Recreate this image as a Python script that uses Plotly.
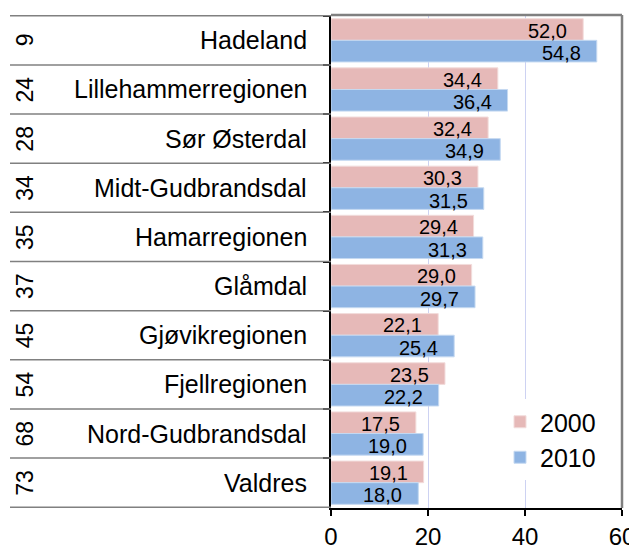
import plotly.graph_objects as go

regions = ["Hadeland", "Lillehammerregionen", "Sør Østerdal", "Midt-Gudbrandsdal",
           "Hamarregionen", "Glåmdal", "Gjøvikregionen", "Fjellregionen",
           "Nord-Gudbrandsdal", "Valdres"]
ranks = [9, 24, 28, 34, 35, 37, 45, 54, 68, 73]
v2000 = [52.0, 34.4, 32.4, 30.3, 29.4, 29.0, 22.1, 23.5, 17.5, 19.1]
v2010 = [54.8, 36.4, 34.9, 31.5, 31.3, 29.7, 25.4, 22.2, 19.0, 18.0]
x_ticks = [0, 20, 40, 60]

FONT = "Arial, Liberation Sans, sans-serif"
PINK = "#E6B9B8"
BLUE = "#8EB4E3"

# page body has an 8px margin; work in window pixels and convert
OFF = 8
W, H = 637 - OFF, 550 - OFF
PL, PR, PT, PB = 331, 622, 15, 508   # plot area in window pixels
L, T = PL - OFF, PT - OFF
R = W - (PR - OFF)
B = H - (PB - OFF)
plot_w = PR - PL
plot_h = PB - PT

def px_to_paper(px):
    return (px - PL) / plot_w

def py_to_paper(py):
    return (PB - py) / plot_h

fig = go.Figure()
fig.add_trace(go.Bar(y=regions, x=v2000, orientation="h", name="2000",
                     marker=dict(color=PINK, line=dict(color="#F2DCDB", width=1))))
fig.add_trace(go.Bar(y=regions, x=v2010, orientation="h", name="2010",
                     marker=dict(color=BLUE, line=dict(color="#C5D9F1", width=1))))

annotations = []
off = 0.22
for i, (name, rk, a, b) in enumerate(zip(regions, ranks, v2000, v2010)):
    annotations.append(dict(x=a, y=i - off, xref="x", yref="y", text=f"{a:.1f}".replace(".", ","),
                            showarrow=False, xanchor="right", yanchor="middle", xshift=-14, yshift=-1,
                            font=dict(size=20, color="black", family=FONT)))
    annotations.append(dict(x=b, y=i + off, xref="x", yref="y", text=f"{b:.1f}".replace(".", ","),
                            showarrow=False, xanchor="right", yanchor="middle", xshift=-14, yshift=-2,
                            font=dict(size=20, color="black", family=FONT)))
    annotations.append(dict(x=px_to_paper(309), y=i, xref="paper", yref="y", text=name,
                            showarrow=False, xanchor="right", yanchor="middle",
                            font=dict(size=25, color="black", family=FONT)))
    annotations.append(dict(x=px_to_paper(25), y=i, xref="paper", yref="y", text=str(rk),
                            showarrow=False, xanchor="center", yanchor="middle", textangle=-90,
                            font=dict(size=23, color="black", family=FONT)))

shapes = []
for k in range(len(regions) + 1):
    yb = k - 0.5
    shapes.append(dict(type="line", xref="paper", yref="y", x0=px_to_paper(10), x1=0,
                       y0=yb, y1=yb, line=dict(color="#808080", width=1.5), layer="above"))
shapes.append(dict(type="line", xref="paper", yref="paper", x0=0, x1=1, y0=1, y1=1,
                   line=dict(color="#808080", width=2.5)))
shapes.append(dict(type="line", xref="paper", yref="paper", x0=1, x1=1, y0=0, y1=1,
                   line=dict(color="#808080", width=2.5)))

fig.update_layout(
    width=W, height=H,
    margin=dict(l=L, r=R, t=T, b=B, autoexpand=False),
    plot_bgcolor="white", paper_bgcolor="white",
    barmode="group", bargap=0.12, bargroupgap=0,
    font=dict(family=FONT, color="black"),
    xaxis=dict(range=[0, 60], tickvals=x_ticks, ticktext=[str(t) for t in x_ticks],
               showgrid=True, gridcolor="#CDD2F2", gridwidth=1, zeroline=False,
               showline=True, linecolor="black", linewidth=1.5,
               ticks="outside", ticklen=6, tickcolor="black", tickwidth=1.5,
               tickfont=dict(size=24, family=FONT), automargin=False,
               ticklabeloverflow="allow"),
    yaxis=dict(autorange="reversed", showticklabels=False, showgrid=False,
               showline=True, linecolor="black", linewidth=1.5,
               ticks="outside", ticklen=6, tickcolor="black", tickwidth=1.5,
               tickson="boundaries", automargin=False),
    legend=dict(x=px_to_paper(500), y=py_to_paper(399), xanchor="left", yanchor="top",
                bgcolor="white", font=dict(size=25, family=FONT), traceorder="normal",
                itemwidth=30, tracegroupgap=0),
    annotations=annotations, shapes=shapes,
    showlegend=True,
)

fig.write_html("out.html")
